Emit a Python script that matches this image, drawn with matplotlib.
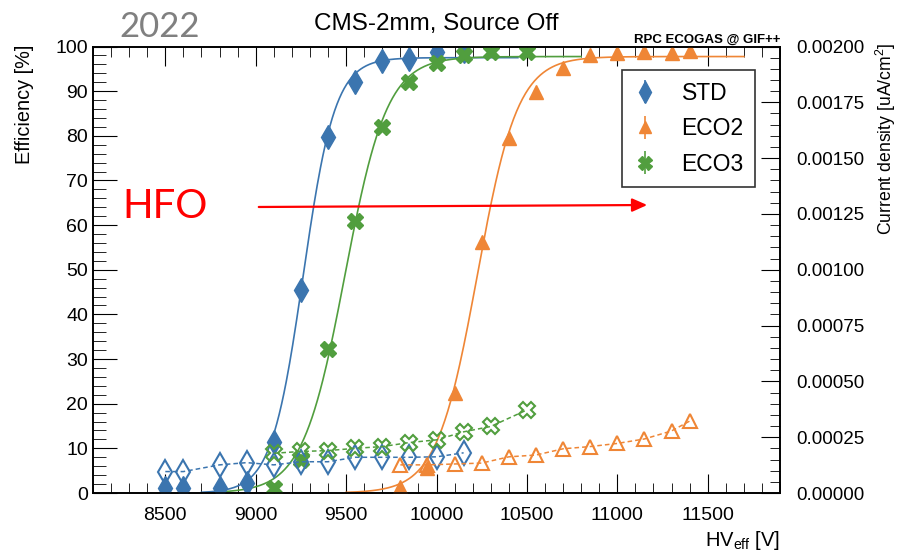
import numpy as np
import matplotlib
matplotlib.use("Agg")
import matplotlib.pyplot as plt
from matplotlib.ticker import MultipleLocator, FormatStrFormatter

plt.rcParams['font.family'] = ['Liberation Sans', 'DejaVu Sans']
plt.rcParams['mathtext.default'] = 'regular'

# efficiency scans (filled markers, left axis)
hv_std = [8500, 8600, 8800, 8950, 9100, 9250, 9400, 9550, 9700, 9850, 10000, 10150]
eff_std = [1.1, 1.1, 1.1, 2.2, 11.5, 45.5, 79.7, 92.1, 96.8, 97.3, 98.8, 99.0]
hv_eco2 = [9800, 9950, 10100, 10250, 10400, 10550, 10700, 10850, 11000, 11150, 11300, 11400]
eff_eco2 = [1.3, 5.5, 22.5, 56.3, 79.4, 89.9, 95.1, 98.1, 98.5, 98.7, 98.6, 99.0]
hv_eco3 = [9100, 9250, 9400, 9550, 9700, 9850, 10000, 10150, 10300, 10500]
eff_eco3 = [1.1, 7.5, 32.2, 60.9, 81.9, 92.1, 96.4, 98.1, 98.7, 98.7]

# current density (open markers, right axis) [uA/cm2]
cur_std = [0.000096, 0.000096, 0.000126, 0.000136, 0.000126, 0.000140, 0.000140,
           0.000160, 0.000160, 0.000160, 0.000162, 0.000180]
cur_eco2 = [0.000126, 0.000126, 0.000130, 0.000134, 0.000162, 0.000170, 0.000198,
            0.000208, 0.000222, 0.000242, 0.000278, 0.000322]
cur_eco3 = [0.000178, 0.000186, 0.000190, 0.000200, 0.000208, 0.000226, 0.000238,
            0.000274, 0.000298, 0.000372]

# range of the sigmoid fit curves
fit_std = (8700, 10450)
fit_eco2 = (9500, 11700)
fit_eco3 = (8800, 10800)

c_std = '#3B75AF'
c_eco2 = '#EF8636'
c_eco3 = '#519E3E'


def fit_sigmoid(hv, eff):
    # brute force least squares of a logistic curve
    hv = np.array(hv, float)
    eff = np.array(eff, float)
    emax = np.linspace(96, 100, 17)
    h50 = np.linspace(hv.min(), hv.max(), 200)
    lam = np.linspace(0.003, 0.04, 200)
    E, H, L = np.meshgrid(emax, h50, lam, indexing='ij')
    pred = E[..., None] / (1 + np.exp(-L[..., None] * (hv - H[..., None])))
    err = ((pred - eff) ** 2).sum(-1)
    i = np.unravel_index(err.argmin(), err.shape)
    return E[i], H[i], L[i]


fig = plt.figure(figsize=(8.98, 5.54), dpi=100)
ax = fig.add_axes([93 / 898, 1 - 493 / 554, 687 / 898, 446.5 / 554])
ax2 = ax.twinx()

series = [
    ('STD', hv_std, eff_std, cur_std, fit_std, c_std, 'd', 12),
    ('ECO2', hv_eco2, eff_eco2, cur_eco2, fit_eco2, c_eco2, '^', 10),
    ('ECO3', hv_eco3, eff_eco3, cur_eco3, fit_eco3, c_eco3, 'X', 11),
]

handles = []
for name, hv, eff, cur, rng, col, mk, ms in series:
    emax, h50, lam = fit_sigmoid(hv, eff)
    xx = np.linspace(rng[0], rng[1], 400)
    ax.plot(xx, emax / (1 + np.exp(-lam * (xx - h50))), color=col, lw=1.2, zorder=2)
    ax.plot(hv, eff, ls='none', marker=mk, ms=ms, color=col, mec=col, zorder=3)
    ax2.plot(hv, cur, ls=(0, (3, 2)), lw=1.1, color=col, marker=mk, ms=ms,
             mfc='none', mec=col, mew=1.5)
    h = ax.errorbar([], [], yerr=[], fmt=mk, ms=ms - 1, color=col, capsize=4,
                    elinewidth=1.2, label=name)
    handles.append(h)

ax.set_xlim(8100, 11900)
ax.set_ylim(0, 100)
ax2.set_ylim(0, 0.002)

ax.xaxis.set_major_locator(MultipleLocator(500))
ax.xaxis.set_minor_locator(MultipleLocator(100))
ax.yaxis.set_major_locator(MultipleLocator(10))
ax.yaxis.set_minor_locator(MultipleLocator(2))
ax2.yaxis.set_major_locator(MultipleLocator(0.00025))
ax2.yaxis.set_minor_locator(MultipleLocator(0.00005))
ax2.yaxis.set_major_formatter(FormatStrFormatter('%.5f'))

ax.tick_params(axis='x', which='both', direction='in', top=True, labelsize=14, pad=10)
ax.tick_params(axis='x', which='major', length=14)
ax.tick_params(axis='x', which='minor', length=7)
ax.tick_params(axis='y', which='both', direction='in', right=False, labelsize=14)
ax.tick_params(axis='y', which='major', length=17)
ax.tick_params(axis='y', which='minor', length=9)
ax2.tick_params(axis='y', which='both', direction='in', labelsize=13.5, pad=12)
ax2.tick_params(axis='y', which='major', length=14)
ax2.tick_params(axis='y', which='minor', length=7)
for a in (ax, ax2):
    for s in a.spines.values():
        s.set_linewidth(1.2)

ax.set_xticks(range(8500, 11501, 500))
ax.set_xticklabels([str(v) for v in range(8500, 11501, 500)])

ax.set_title('CMS-2mm, Source Off', fontsize=17.5, pad=12)
fig.text(780 / 898, 1 - 43 / 554, 'RPC ECOGAS @ GIF++', fontsize=9.5,
         fontweight='bold', ha='right', va='baseline')
fig.text(25 / 898, 1 - 45 / 554, 'Efficiency [%]', rotation=90, fontsize=14.3,
         ha='center', va='top')
fig.text(886 / 898, 1 - 43 / 554, 'Current density [uA/cm$^2$]', rotation=90,
         fontsize=12.7, ha='center', va='top')
fig.text(780 / 898, 1 - 540 / 554, 'HV$_{eff}$ [V]', fontsize=14.5,
         ha='right', va='center')

leg = ax.legend(handles=handles, loc='upper left', bbox_to_anchor=(0.77, 0.947),
                fontsize=16.5, frameon=True, fancybox=False, edgecolor='black',
                handlelength=1.0, handletextpad=1.1, borderpad=0.5,
                labelspacing=0.55, borderaxespad=0)
leg.get_frame().set_linewidth(1.2)
leg.set_zorder(10)

fig.text(160 / 898, 1 - 27 / 554, '2022', family=['Lato', 'DejaVu Sans'],
         fontsize=25, color='#808080', ha='center', va='center')
fig.text(122 / 898, 1 - 207 / 554, 'HFO', family=['Lato', 'DejaVu Sans'],
         fontsize=29, color='red', ha='left', va='center')
fig.add_artist(plt.matplotlib.patches.FancyArrowPatch(
    (256 / 898, 1 - 207 / 554), (650 / 898, 1 - 205 / 554),
    transform=fig.transFigure, arrowstyle='-|>,head_length=9,head_width=4',
    mutation_scale=1, color='red', lw=1.6))

fig.savefig('out.png', dpi=100)
